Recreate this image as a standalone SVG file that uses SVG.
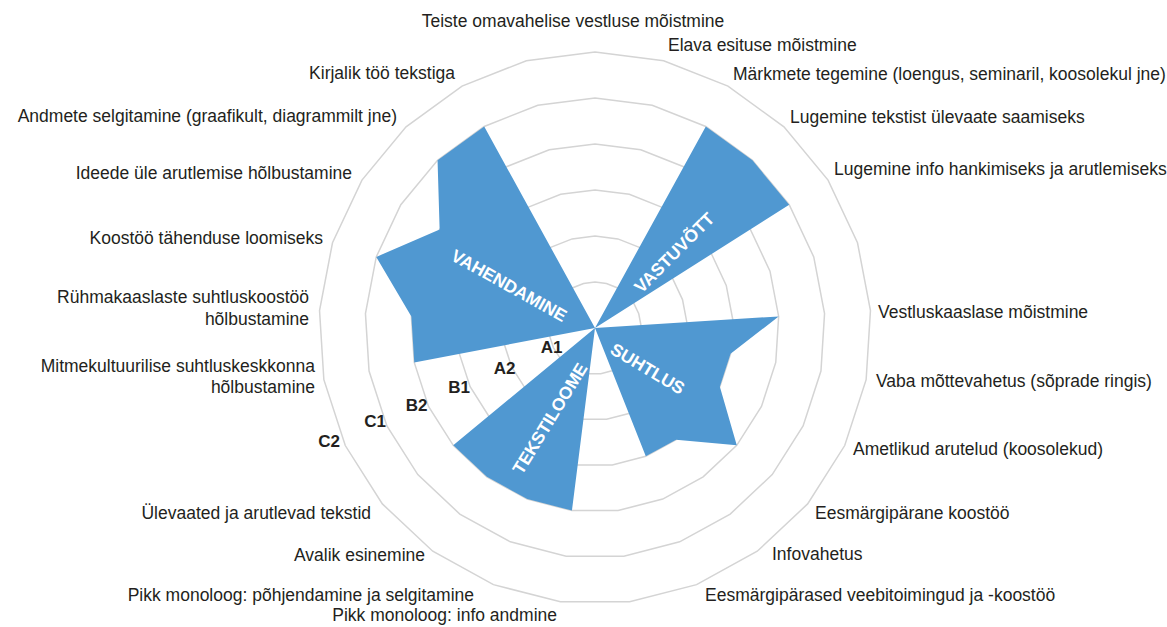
<svg xmlns="http://www.w3.org/2000/svg" xmlns:xlink="http://www.w3.org/1999/xlink" width="1167" height="627" viewBox="0 0 1167 627">
<style>
.ring{fill:none;stroke:#d4d4d4;stroke-width:1.5}
.lbl{font-family:"Liberation Sans",Arial,sans-serif;font-size:17.5px;fill:#231f20}
.end{text-anchor:end}
.mid{text-anchor:middle}
.lvl{font-family:"Liberation Sans",Arial,sans-serif;font-size:17px;font-weight:bold;fill:#231f20;text-anchor:middle}
.cat{font-family:"Liberation Sans",Arial,sans-serif;font-size:17.5px;font-weight:bold;fill:#ffffff;text-anchor:middle}
</style>
<defs>
<polygon id="ring1" class="ring" vector-effect="non-scaling-stroke" points="0,-46 11.44,-44.55 22.16,-40.31 31.49,-33.53 38.84,-24.65 43.75,-14.21 45.91,-2.89 45.19,8.62 41.62,19.59 35.44,29.32 27.04,37.21 16.93,42.77 5.77,45.64 -5.77,45.64 -16.93,42.77 -27.04,37.21 -35.44,29.32 -41.62,19.59 -45.19,8.62 -45.91,-2.89 -43.75,-14.21 -38.84,-24.65 -31.49,-33.53 -22.16,-40.31 -11.44,-44.55"/>
</defs>
<rect width="1167" height="627" fill="#ffffff"/>
<g id="grid">
<use xlink:href="#ring1" transform="translate(595,328) scale(1)"/>
<use xlink:href="#ring1" transform="translate(595,328) scale(2)"/>
<use xlink:href="#ring1" transform="translate(595,328) scale(3)"/>
<use xlink:href="#ring1" transform="translate(595,328) scale(4)"/>
<use xlink:href="#ring1" transform="translate(595,328) scale(5)"/>
<use xlink:href="#ring1" transform="translate(595,328) scale(6)"/>
</g>
<g id="data">
<polygon fill="#5098d1" points="595,328 705.80,126.45 752.45,160.34 789.20,204.76 595,328 778.64,316.45 730.56,353.86 719.87,386.76 736.77,445.29 676.12,439.64 645.80,456.31 595,328 571.94,510.55 527.27,499.08 486.85,476.86 453.23,445.29 595,328 414.26,362.48 411.36,316.45 376.26,256.93 439.64,229.41 437.55,160.34 484.20,126.45"/>
</g>
<g id="categories">
<text class="cat" transform="translate(509.2,285.4) rotate(29.2)" dy="0.36em">VAHENDAMINE</text>
<text class="cat" transform="translate(674,252.5) rotate(-45)" dy="0.36em">VASTUVÕTT</text>
<text class="cat" transform="translate(647.8,368.5) rotate(30.8)" dy="0.36em">SUHTLUS</text>
<text class="cat" transform="translate(549.7,418.3) rotate(-58.5)" dy="0.36em">TEKSTILOOME</text>
</g>
<g id="levels">
<text class="lvl" x="551.7" y="353">A1</text>
<text class="lvl" x="504.5" y="374">A2</text>
<text class="lvl" x="459" y="393">B1</text>
<text class="lvl" x="416.5" y="411">B2</text>
<text class="lvl" x="375" y="427">C1</text>
<text class="lvl" x="329" y="446.5">C2</text>
</g>
<g id="labels">
<text class="lbl mid" x="573" y="27">Teiste omavahelise vestluse mõistmine</text>
<text class="lbl" x="668" y="51">Elava esituse mõistmine</text>
<text class="lbl" x="733" y="80">Märkmete tegemine (loengus, seminaril, koosolekul jne)</text>
<text class="lbl" x="790" y="123">Lugemine tekstist ülevaate saamiseks</text>
<text class="lbl" x="834" y="175">Lugemine info hankimiseks ja arutlemiseks</text>
<text class="lbl" x="878" y="318">Vestluskaaslase mõistmine</text>
<text class="lbl" x="876" y="387">Vaba mõttevahetus (sõprade ringis)</text>
<text class="lbl" x="853" y="455">Ametlikud arutelud (koosolekud)</text>
<text class="lbl" x="815" y="519">Eesmärgipärane koostöö</text>
<text class="lbl" x="772" y="560">Infovahetus</text>
<text class="lbl" x="705" y="601">Eesmärgipärased veebitoimingud ja -koostöö</text>
<text class="lbl end" x="557" y="621">Pikk monoloog: info andmine</text>
<text class="lbl end" x="474" y="601">Pikk monoloog: põhjendamine ja selgitamine</text>
<text class="lbl end" x="425" y="561">Avalik esinemine</text>
<text class="lbl end" x="371" y="519">Ülevaated ja arutlevad tekstid</text>
<text class="lbl end" x="315" y="371.5">Mitmekultuurilise suhtluskeskkonna</text>
<text class="lbl end" x="315" y="393">hõlbustamine</text>
<text class="lbl end" x="309" y="303">Rühmakaaslaste suhtluskoostöö</text>
<text class="lbl end" x="309" y="324.5">hõlbustamine</text>
<text class="lbl end" x="323" y="243.5">Koostöö tähenduse loomiseks</text>
<text class="lbl end" x="352" y="179">Ideede üle arutlemise hõlbustamine</text>
<text class="lbl end" x="397" y="122">Andmete selgitamine (graafikult, diagrammilt jne)</text>
<text class="lbl end" x="455" y="79">Kirjalik töö tekstiga</text>
</g>
</svg>
